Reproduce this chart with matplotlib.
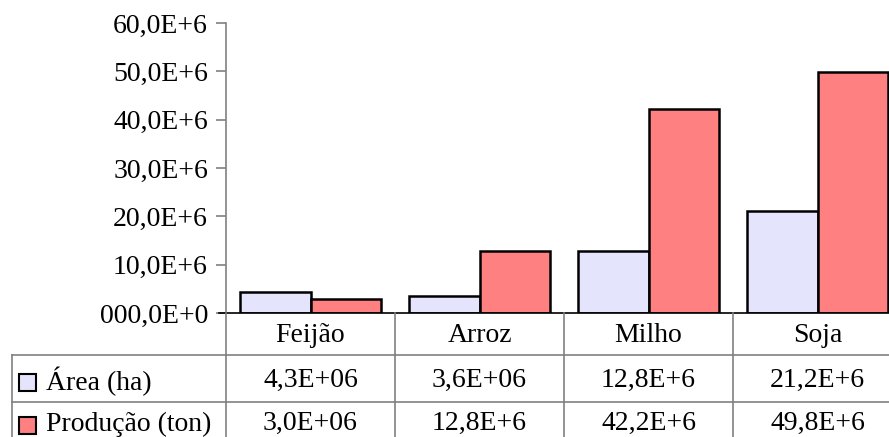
import matplotlib.pyplot as plt
from matplotlib.lines import Line2D
from matplotlib.patches import Rectangle
from matplotlib.ticker import FuncFormatter
from matplotlib.transforms import blended_transform_factory
import numpy as np

categories = ['Feijão', 'Arroz', 'Milho', 'Soja']
area = [4.3e6, 3.6e6, 12.8e6, 21.2e6]
producao = [3.0e6, 12.8e6, 42.2e6, 49.8e6]
area_labels = ['4,3E+06', '3,6E+06', '12,8E+6', '21,2E+6']
producao_labels = ['3,0E+06', '12,8E+6', '42,2E+6', '49,8E+6']
series_names = ['Área (ha)', 'Produção (ton)']

W, H = 889, 437
plt.rcParams['font.family'] = ['Liberation Serif', 'DejaVu Serif']
plt.rcParams['font.size'] = 20

fig = plt.figure(figsize=(W / 100, H / 100), dpi=100)
# the plot area runs a little past the right edge of the picture
ax = fig.add_axes([226 / W, 1 - 313 / H, 676 / W, (313 - 23) / H])

c_area = '#E4E4FC'
c_prod = '#FF8080'
grid_c = '#808080'
x = np.arange(len(categories))
bw = 0.42
ax.bar(x - bw / 2, area, bw, color=c_area, edgecolor='black', linewidth=1.8)
ax.bar(x + bw / 2, producao, bw, color=c_prod, edgecolor='black', linewidth=1.8)

ax.set_xlim(-0.5, len(categories) - 0.5)
ax.set_ylim(0, 60e6)
ax.set_yticks(np.arange(0, 60e6 + 1, 10e6))


def fmt(v, pos):
    if v == 0:
        return '000,0E+0'
    return ('%.1fE+6' % (v / 1e6)).replace('.', ',')


ax.yaxis.set_major_formatter(FuncFormatter(fmt))
ax.tick_params(axis='y', direction='out', length=7, width=1.2, color=grid_c, pad=6)
ax.set_xticks([])
for s in ['top', 'right', 'bottom']:
    ax.spines[s].set_visible(False)
ax.spines['left'].set_color(grid_c)
ax.spines['left'].set_linewidth(1.2)


def px(xp, yp):
    return xp / W, 1 - yp / H


def hline(x0, x1, yp, color=grid_c):
    a, b = px(x0, yp)
    c, d = px(x1, yp)
    fig.add_artist(Line2D([a, c], [b, d], color=color, linewidth=1.2))


# table grid
hline(219, W, 313, color='black')
hline(12, W, 355)
hline(12, W, 402)
fig.add_artist(Line2D([12 / W, 12 / W], [1 - 355 / H, 0], color=grid_c, linewidth=1.2))
fig.add_artist(Line2D([226 / W, 226 / W], [1 - 313 / H, 0], color=grid_c, linewidth=1.2))
tr = blended_transform_factory(ax.transData, fig.transFigure)
for i in range(1, len(categories)):
    fig.add_artist(Line2D([i - 0.5, i - 0.5], [1 - 313 / H, 0], color=grid_c,
                          linewidth=1.2, transform=tr))

for i, cat in enumerate(categories):
    fig.text(i, 1 - 335 / H, cat, transform=tr, ha='center', va='center')
    fig.text(i, 1 - 380 / H, area_labels[i], transform=tr, ha='center', va='center')
    fig.text(i, 1 - 423 / H, producao_labels[i], transform=tr, ha='center', va='center')

# row labels with legend keys
for yp, name, col in [(381, series_names[0], c_area), (424, series_names[1], c_prod)]:
    fig.add_artist(Rectangle((19 / W, 1 - (yp + 10) / H), 17 / W, 17 / H,
                             facecolor=col, edgecolor='black', linewidth=1.5))
    fig.text(46 / W, 1 - yp / H, name, ha='left', va='center')

fig.savefig('out.png', dpi=100)
